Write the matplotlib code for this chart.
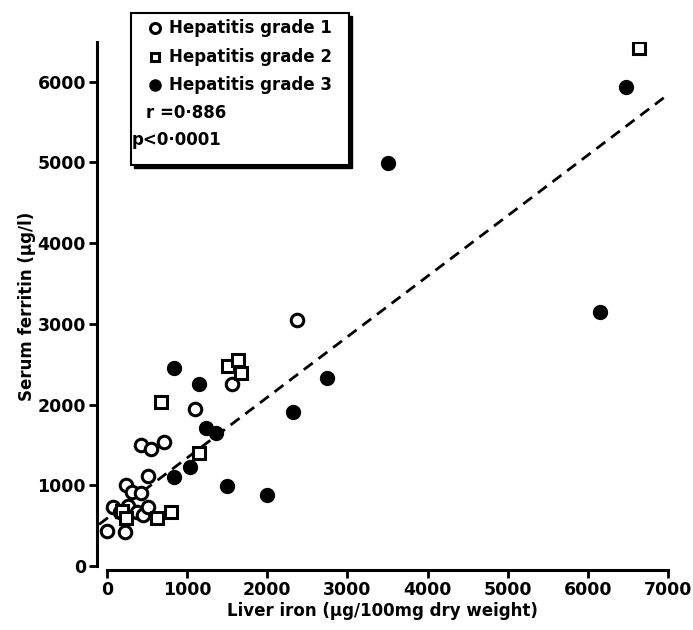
import matplotlib.pyplot as plt
from matplotlib.patches import Rectangle
from matplotlib.lines import Line2D

# liver iron (ug/100mg dry weight) vs serum ferritin (ug/l)
grade1_x = [2370, 1560, 1100, 710, 420, 550, 510, 240, 310, 420,
            75, 260, 160, 375, 450, 510, 0, 225]
grade1_y = [3050, 2255, 1945, 1540, 1500, 1450, 1115, 1000, 920, 905,
            730, 740, 670, 670, 630, 730, 435, 420]

grade2_x = [6640, 670, 1150, 1510, 1635, 1670, 187, 237, 625, 800]
grade2_y = [6420, 2030, 1400, 2480, 2550, 2390, 680, 595, 595, 670]

grade3_x = [3500, 6470, 6150, 840, 1150, 1235, 1360, 1040, 840, 1500, 2000, 2750, 2320]
grade3_y = [4995, 5935, 3150, 2450, 2255, 1710, 1650, 1230, 1100, 990, 880, 2330, 1910]

# regression line y = a + b*x
fit_a = 590
fit_b = 0.75
fit_x = [-100, 7000]

x_ticks = [0, 1000, 2000, 3000, 4000, 5000, 6000, 7000]
y_ticks = [0, 1000, 2000, 3000, 4000, 5000, 6000]

labels = ["Hepatitis grade 1", "Hepatitis grade 2", "Hepatitis grade 3"]
stats = ["r =0\u00b7886", "p<0\u00b70001"]

plt.rcParams['font.family'] = ['DejaVu Sans']

fig = plt.figure(figsize=(6.93, 6.3), dpi=100)
ax = fig.add_axes([0.140, 0.0952, 0.824, 0.838])

styles = [
    dict(marker='o', ms=9, mfc='white', mec='black', mew=2.2, ls='none'),
    dict(marker='s', ms=8, mfc='white', mec='black', mew=2.2, ls='none'),
    dict(marker='o', ms=10, mfc='black', mec='black', mew=1, ls='none'),
]

fit_y = [fit_a + fit_b * x for x in fit_x]
ax.plot(fit_x, fit_y, color='black', lw=2, ls=(0, (4, 2.6)), zorder=1)
ax.plot(grade3_x, grade3_y, zorder=3, **styles[2])
ax.plot(grade1_x, grade1_y, zorder=4, **styles[0])
ax.plot(grade2_x, grade2_y, zorder=4, **styles[1])

ax.set_xlim(-125, 7000)
ax.set_ylim(-50, 6490)
ax.set_xticks(x_ticks)
ax.set_yticks(y_ticks)
for s in ['top', 'right']:
    ax.spines[s].set_visible(False)
ax.spines['left'].set_bounds(0, 6490)
ax.spines['bottom'].set_bounds(0, 7000)
for s in ['left', 'bottom']:
    ax.spines[s].set_linewidth(2.2)
ax.tick_params(width=2, length=6, labelsize=12.5, pad=2)
for lab in ax.get_xticklabels() + ax.get_yticklabels():
    lab.set_fontweight('bold')

ax.set_xlabel("Liver iron (\u00b5g/100mg dry weight)", fontsize=12,
              fontweight='bold', labelpad=2)
ax.set_ylabel("Serum ferritin (\u00b5g/l)", fontsize=12,
              fontweight='bold', labelpad=1)

# legend box with shadow, in figure pixels
W, H = 693, 630
def fx(px):
    return px / W
def fy(py):
    return 1 - py / H

bx0, by0, bx1, by1 = 131, 13, 349, 165
fig.add_artist(Rectangle((fx(bx0 + 3), fy(by1 + 3)), fx(bx1 - bx0), (by1 - by0) / H,
                         transform=fig.transFigure, fc='black', ec='black', lw=1))
fig.add_artist(Rectangle((fx(bx0), fy(by1)), fx(bx1 - bx0), (by1 - by0) / H,
                         transform=fig.transFigure, fc='white', ec='black', lw=1.5))

rows = [28, 57, 85]
for i in range(3):
    st = dict(styles[i])
    st['ms'] = st['ms'] * 0.8
    fig.add_artist(Line2D([fx(155)], [fy(rows[i])], transform=fig.transFigure, **st))
    fig.text(fx(169), fy(rows[i]), labels[i], fontsize=12, fontweight='bold', va='center')
fig.text(fx(146), fy(113), stats[0], fontsize=12, fontweight='bold', va='center')
fig.text(fx(132), fy(140), stats[1], fontsize=12, fontweight='bold', va='center')

fig.savefig('out.png', dpi=100)
